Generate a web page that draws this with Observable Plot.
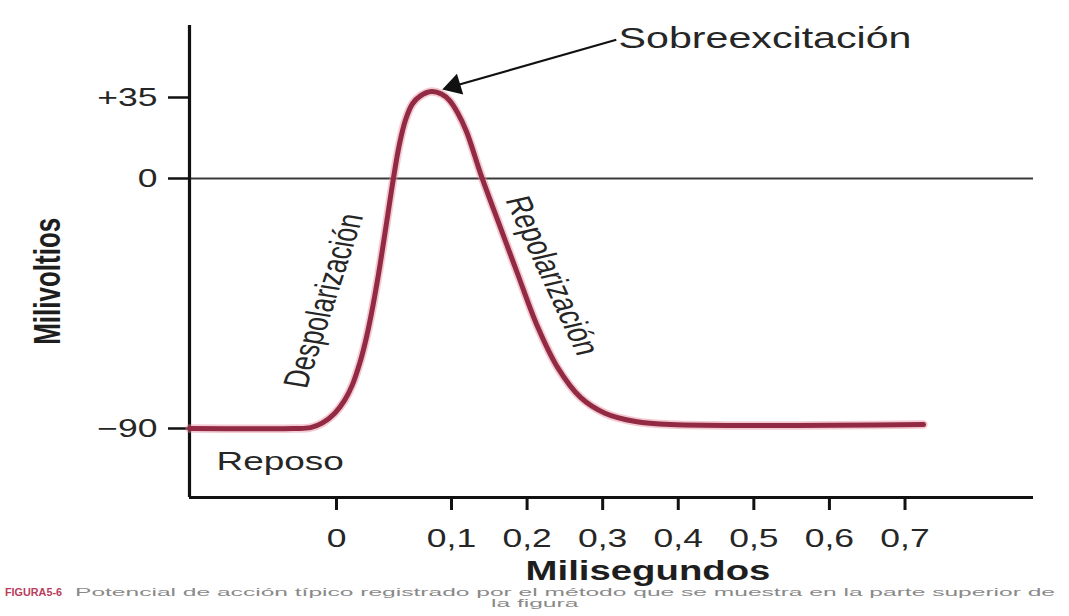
<!DOCTYPE html>
<html>
<head>
<meta charset="utf-8">
<script src="https://cdn.jsdelivr.net/npm/d3@7"></script>
<script src="https://cdn.jsdelivr.net/npm/@observablehq/plot@0.6"></script>
<style>
  html, body { margin: 0; padding: 0; background: #fff; }
  body { width: 1069px; height: 616px; overflow: hidden; font-family: "Liberation Sans", Arial, sans-serif; }
  #chart svg { display: block; }
  #caption { position: relative; width: 1069px; height: 32px; margin-top: -8px; font-size: 10px; line-height: 12px; color: #8a8a8a; }
  #caption span { position: absolute; white-space: nowrap; transform-origin: left top; }
  #fig { color: #b83d5c; font-weight: bold; left: 5px; top: 3px; }
  #cap1 { left: 75px; top: 3px; }
  #cap2 { top: 14px; }
</style>
</head>
<body>
<div id="chart"></div>
<div id="caption"><span id="fig">FIGURA5-6</span><span id="cap1">Potencial de acción típico registrado por el método que se muestra en la parte superior de</span><span id="cap2">la figura</span></div>
<script>
// ---- data (time in ms, membrane potential in mV) ----
const timeMs = [-0.128, -0.0374, -0.0226, -0.0122, -0.0017, 0.0070, 0.0139, 0.0200, 0.0252, 0.0304, 0.0365, 0.0435, 0.0496, 0.0548, 0.0600, 0.0661, 0.0730, 0.0826,
                0.0913, 0.0983, 0.1079, 0.1198, 0.1397, 0.1622, 0.1873, 0.2138, 0.2403, 0.2707, 0.3038, 0.3435, 0.3898, 0.7245];
const voltageMv = [-90, -90, -89.7, -88.0, -84.6, -79.9, -74.2, -66.8, -58.7, -48.6, -34.5, -16.1, 0.4, 15.0, 25.3, 32.3, 35.7, 37.6,
                   36.5, 33.7, 28.5, 20.3, 0.9, -15.8, -34.2, -53.3, -68.0, -78.8, -84.6, -87.5, -88.6, -88.6];

const xTicks = [0, 0.1, 0.2, 0.3, 0.4, 0.5, 0.6, 0.7];
const yTicks = [35, 0, -90];

const xLabel = "Milisegundos";
const yLabel = "Milivoltios";

// annotation labels (data coordinates)
const noteText   = ["Reposo", "Despolarización", "Repolarización", "Sobreexcitación"];
const noteTime   = [-0.049, -0.011, 0.233, 0.321];
const noteVolt   = [-102, -44, -35, 60.5];
const noteRotate = [0, -77, 72, 0];
const noteAnchor = ["middle", "middle", "middle", "start"];
const noteSize   = [26, 25, 25, 29];

// arrow from "Sobreexcitación" toward the peak
const arrowFrom = {t: 0.318, v: 60.0};
const arrowTo   = {t: 0.1035, v: 40.0};

// scale domains (piecewise, as drawn in the original figure)
const xDomain = [-0.128, 0, 0.1, 0.87];
const yDomain = [-114.8, -90, 0, 35, 66.2];

// ---- build tables ----
const curve = timeMs.map((t, i) => ({t, v: voltageMv[i]}));
const notes = noteText.map((s, i) => ({s, t: noteTime[i], v: noteVolt[i], r: noteRotate[i], a: noteAnchor[i], f: noteSize[i]}));

const W = 1069, H = 592;
const mL = 189, mR = 36, mT = 25, mB = 95;
const FONT = "Liberation Sans, Arial, sans-serif";
const INK = "#262626";

const fmtX = d => d === 0 ? "0" : d.toFixed(1).replace(".", ",");
const fmtY = d => d > 0 ? "+" + d : d < 0 ? "\u2212" + (-d) : "0";

const noteMarks = notes.map(n => Plot.text([n], {
  x: "t", y: "v", text: "s", rotate: n.r, textAnchor: n.a, lineAnchor: "middle",
  fontSize: n.f, fontFamily: FONT, fill: INK
}));

const chart = Plot.plot({
  width: W, height: H,
  marginLeft: mL, marginRight: mR, marginTop: mT, marginBottom: mB,
  style: {fontFamily: FONT, color: INK, background: "#fff"},
  x: {type: "linear", domain: xDomain, range: [mL, 336, 451, W - mR], label: null},
  y: {type: "linear", domain: yDomain, range: [H - mB, 428, 178, 97, mT], label: null},
  marks: [
    Plot.ruleY([0], {stroke: "#3a3a3a", strokeWidth: 1.8}),
    Plot.axisY(yTicks, {
      anchor: "left", tickSize: 21, tickPadding: 11, tickFormat: fmtY,
      label: null, fontSize: 25, fontFamily: FONT, fill: INK, stroke: "#111", strokeWidth: 2.5
    }),
    Plot.axisX(xTicks, {
      anchor: "bottom", tickSize: 13, tickPadding: 19, tickFormat: fmtX,
      label: null, fontSize: 25, fontFamily: FONT, fill: INK, stroke: "#111", strokeWidth: 3
    }),
    Plot.ruleX([xDomain[0]], {stroke: "#111", strokeWidth: 3.2}),
    Plot.ruleY([yDomain[0]], {stroke: "#111", strokeWidth: 3.2}),
    Plot.line(curve, {x: "t", y: "v", curve: "catmull-rom", stroke: "#e48a9c", strokeWidth: 8.5, strokeOpacity: 0.45}),
    Plot.line(curve, {x: "t", y: "v", curve: "catmull-rom", stroke: "#922a44", strokeWidth: 5}),
    Plot.link([{x1: arrowFrom.t, y1: arrowFrom.v, x2: arrowTo.t, y2: arrowTo.v}], {
      x1: "x1", y1: "y1", x2: "x2", y2: "y2", stroke: "#111", strokeWidth: 2.2
    }),
    Plot.dot([arrowTo], {x: "t", y: "v", symbol: "triangle", r: 8, fill: "#111", stroke: "none", rotate: -107}),
    ...noteMarks,
    Plot.text([{s: xLabel, t: 0.36}], {
      x: "t", text: "s", frameAnchor: "bottom", textAnchor: "middle", lineAnchor: "middle", dy: 74,
      fontSize: 27, fontWeight: "bold", fontFamily: FONT, fill: "#1e1e1e"
    }),
    Plot.text([{s: yLabel, v: -37}], {
      y: "v", text: "s", frameAnchor: "left", textAnchor: "middle", lineAnchor: "middle", dx: -141, rotate: -90,
      fontSize: 26, fontWeight: "bold", fontFamily: FONT, fill: "#1e1e1e"
    })
  ]
});

document.getElementById("chart").appendChild(chart);

// The original figure is stretched horizontally: widen every glyph around its anchor.
const SX = 1.42;
chart.querySelectorAll("text").forEach(t => {
  const tr = t.getAttribute("transform");
  if (tr && /^\s*translate\(/.test(tr)) {
    t.setAttribute("transform", tr.replace(/^\s*(translate\([^)]*\))/, `$1 scale(${SX},1)`));
  } else {
    const x = +(t.getAttribute("x") || 0), y = +(t.getAttribute("y") || 0);
    t.removeAttribute("x"); t.removeAttribute("y");
    t.setAttribute("transform", `translate(${x},${y}) scale(${SX},1)${tr ? " " + tr : ""}`);
  }
  const dx = t.getAttribute("dx");
  if (dx && /^-?[\d.]+$/.test(dx) && !/rotate/.test(tr || "")) t.setAttribute("dx", (+dx) / SX);
});

// stretch caption pieces to the widths they occupy in the original
const fig = document.getElementById("fig"), c1 = document.getElementById("cap1"), c2 = document.getElementById("cap2");
const sf = 57 / fig.getBoundingClientRect().width;
fig.style.transform = `scaleX(${sf})`;
const s = 980 / c1.getBoundingClientRect().width;
c1.style.transform = `scaleX(${s})`;
const w2 = c2.getBoundingClientRect().width * s;
c2.style.left = (535 - w2 / 2) + "px";
c2.style.transform = `scaleX(${s})`;
</script>
</body>
</html>
